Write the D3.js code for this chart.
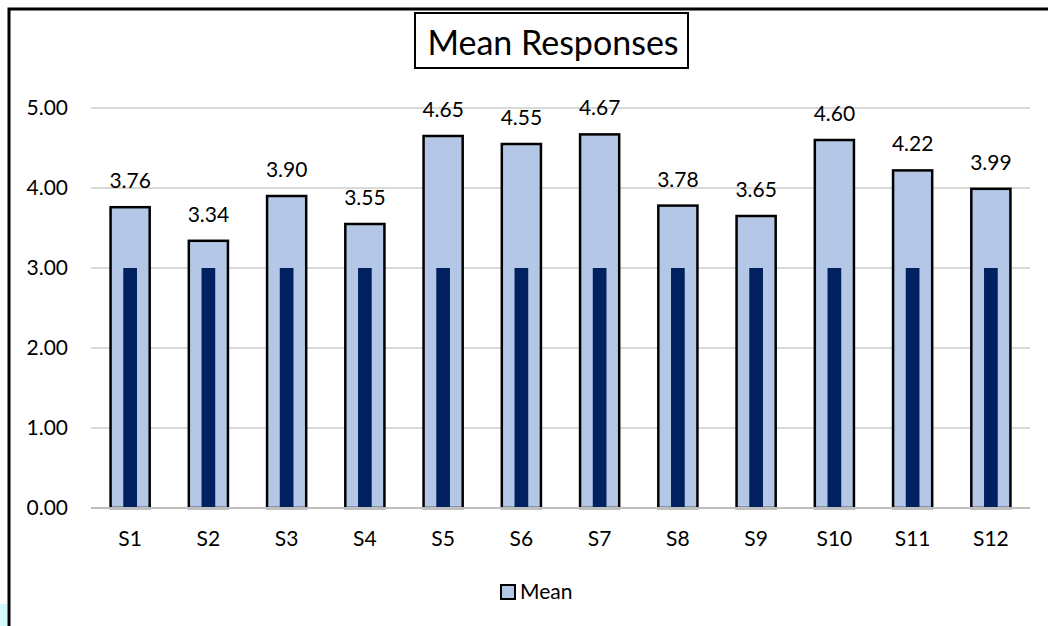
<!DOCTYPE html>
<html>
<head>
<meta charset="utf-8">
<script src="https://cdn.jsdelivr.net/npm/d3@7"></script>
<style>
  html, body { margin: 0; padding: 0; background: #ffffff; }
  svg { display: block; font-family: Lato, "Open Sans", sans-serif; }
</style>
</head>
<body>
<svg id="chart" width="1048" height="626"></svg>
<script>
// Survey items and their mean scores
const categories = ["S1", "S2", "S3", "S4", "S5", "S6", "S7", "S8", "S9", "S10", "S11", "S12"];
const meanValues = [3.76, 3.34, 3.90, 3.55, 4.65, 4.55, 4.67, 3.78, 3.65, 4.60, 4.22, 3.99];
// Neutral midpoint drawn as the narrow inner bar
const midpointValues = [3, 3, 3, 3, 3, 3, 3, 3, 3, 3, 3, 3];
const yTicks = [0, 1, 2, 3, 4, 5];
const chartTitle = "Mean Responses";
const legendLabel = "Mean";

const svg = d3.select("#chart");

const plot = { left: 91, right: 1030, top: 108, bottom: 508 };
const labelSize = 21;

const x = d3.scaleBand()
  .domain(categories)
  .range([plot.left, plot.right])
  .paddingInner(0.5)
  .paddingOuter(0.25);

const y = d3.scaleLinear()
  .domain([0, 5])
  .range([plot.bottom, plot.top]);

const fmt = d3.format(".2f");

// Frame lines along the left and top edges
svg.append("path")
  .attr("d", "M9,626V9H1048")
  .attr("fill", "none")
  .attr("stroke", "#000")
  .attr("stroke-width", 3);

// Small light-cyan patch at the lower left corner
svg.append("rect")
  .attr("x", 0).attr("y", 604)
  .attr("width", 7).attr("height", 22)
  .attr("fill", "#d2fbfc");

// Horizontal gridlines
svg.append("g")
  .selectAll("line")
  .data(yTicks.filter(d => d > 0))
  .join("line")
  .attr("x1", plot.left).attr("x2", plot.right)
  .attr("y1", d => y(d)).attr("y2", d => y(d))
  .attr("stroke", "#d9d9d9")
  .attr("stroke-width", 2);

// Mean bars
svg.append("g")
  .selectAll("rect")
  .data(categories.map((c, i) => ({ c, v: meanValues[i] })))
  .join("rect")
  .attr("x", d => x(d.c))
  .attr("y", d => y(d.v))
  .attr("width", x.bandwidth())
  .attr("height", d => y(0) - y(d.v))
  .attr("fill", "#b4c7e7")
  .attr("stroke", "#000")
  .attr("stroke-width", 2.5);

// Inner midpoint bars
const innerW = x.bandwidth() * 0.35;
svg.append("g")
  .selectAll("rect")
  .data(categories.map((c, i) => ({ c, v: midpointValues[i] })))
  .join("rect")
  .attr("x", d => x(d.c) + (x.bandwidth() - innerW) / 2)
  .attr("y", d => y(d.v))
  .attr("width", innerW)
  .attr("height", d => y(0) - y(d.v) - 1)
  .attr("fill", "#002060");

// Category axis line
svg.append("line")
  .attr("x1", plot.left).attr("x2", plot.right)
  .attr("y1", y(0)).attr("y2", y(0))
  .attr("stroke", "#bfbfbf")
  .attr("stroke-width", 2);

// Value labels above bars
svg.append("g")
  .selectAll("text")
  .data(categories.map((c, i) => ({ c, v: meanValues[i] })))
  .join("text")
  .attr("x", d => x(d.c) + x.bandwidth() / 2)
  .attr("y", d => y(d.v) - 19)
  .attr("text-anchor", "middle")
  .attr("font-size", labelSize)
  .attr("fill", "#000")
  .text(d => fmt(d.v));

// Y axis
const yAxis = svg.append("g")
  .attr("transform", `translate(${plot.left},0)`)
  .call(d3.axisLeft(y).tickValues(yTicks).tickFormat(fmt).tickSize(0).tickPadding(23));
yAxis.select(".domain").remove();
yAxis.selectAll("text").attr("font-size", labelSize).attr("font-family", "Lato, sans-serif").attr("fill", "#000");

// X axis
const xAxis = svg.append("g")
  .attr("transform", `translate(0,${plot.bottom})`)
  .call(d3.axisBottom(x).tickSize(0).tickPadding(23));
xAxis.select(".domain").remove();
xAxis.selectAll("text").attr("font-size", labelSize).attr("font-family", "Lato, sans-serif").attr("fill", "#000");

// Title in a box
svg.append("rect")
  .attr("x", 415).attr("y", 13)
  .attr("width", 273).attr("height", 55)
  .attr("fill", "#fff")
  .attr("stroke", "#000")
  .attr("stroke-width", 2);
svg.append("text")
  .attr("x", 553).attr("y", 55)
  .attr("text-anchor", "middle")
  .attr("font-size", 34)
  .attr("fill", "#000")
  .text(chartTitle);

// Legend
svg.append("rect")
  .attr("x", 501).attr("y", 585)
  .attr("width", 14).attr("height", 14)
  .attr("fill", "#b4c7e7")
  .attr("stroke", "#000")
  .attr("stroke-width", 2);
svg.append("text")
  .attr("x", 520).attr("y", 599)
  .attr("font-size", labelSize)
  .attr("fill", "#000")
  .text(legendLabel);
</script>
</body>
</html>
